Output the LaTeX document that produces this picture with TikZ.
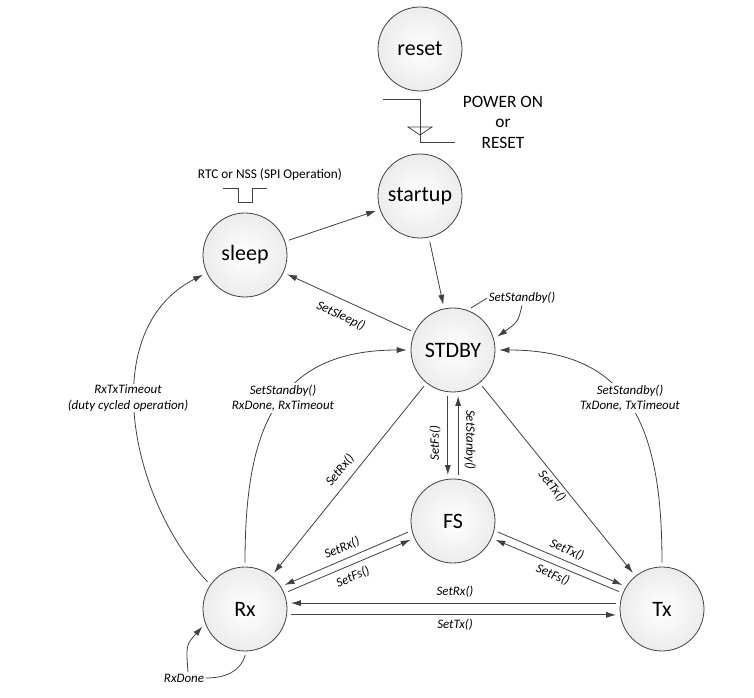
\documentclass[tikz,border=0pt]{standalone}
\usepackage{fontspec}
\setmainfont{Carlito}
\usetikzlibrary{arrows.meta}
\definecolor{linegray}{HTML}{404040}
\tikzset{>={Latex[length=2.6mm,width=1.6mm]}}
\tikzset{
    state/.style={circle, draw=linegray, line width=0.6pt, minimum size=63pt,
        inner color=white, outer color=gray!15,
        font=\fontsize{16.5}{18}\selectfont},
    lab/.style={font=\fontsize{9.7}{11.5}\selectfont\itshape, inner sep=1pt},
    conn/.style={draw=linegray, line width=0.6pt, ->, shorten >=3pt, shorten <=3pt},
}

\begin{document}
\begin{tikzpicture}[x=0.75pt,y=-0.75pt]
	\useasboundingbox (0,0) rectangle (754,698);
	% states
	\node[state] (reset) at (420,49) {reset};
	\node[state] (startup) at (420,196) {startup};
	\node[state] (sleep) at (245,255) {sleep};
	\node[state] (stdby) at (453,350) {STDBY};
	\node[state] (fs) at (453,521) {FS};
	\node[state] (rx) at (245,609) {Rx};
	\node[state] (tx) at (662,609) {Tx};
	% power on step
	\draw[linegray, line width=0.6pt] (383,99) -- (420,99) -- (420,142) -- (455,142);
	\draw[linegray, line width=0.6pt] (408,127) -- (432,127) -- (420,135) -- cycle;
	\node[align=center, font=\fontsize{13}{15.4}\selectfont] (power) at (503,122) {POWER ON\\or\\RESET};
	% wake-up pulse
	\node[font=\fontsize{10}{12}\selectfont] (rtc) at (270,175) {RTC or NSS (SPI Operation)};
	\draw[linegray, line width=0.6pt] (223,188) -- (238,188) -- (238,202) -- (252,202) -- (252,188) -- (267,188);
	% straight transitions
	\draw[conn] (sleep) -- (startup);
	\draw[conn] (startup) -- (stdby);
	\draw[conn] (stdby) -- (sleep);
	\draw[conn] (stdby) -- (rx);
	\draw[conn] (stdby) -- (tx);
	\draw[conn] (stdby.263) -- (fs.97);
	\draw[conn] (fs.83) -- (stdby.277);
	\draw[conn] (fs.193) -- (rx.32);
	\draw[conn] (rx.22) -- (fs.204);
	\draw[conn] (fs.347) -- (tx.148);
	\draw[conn] (tx.158) -- (fs.336);
	\draw[conn] (tx.172) -- (rx.8);
	\draw[conn] (rx.352) -- (tx.188);
	% curved transitions
	\draw[conn] (rx.north) .. controls (245,430) and (275,350) .. (stdby.west);
	\draw[conn] (tx.north) .. controls (662,430) and (632,350) .. (stdby.east);
	\draw[conn] (rx.145) .. controls (130,500) and (95,330) .. (sleep.205);
	% self loops
	\node[lab] (lstdby) at (522,298) {SetStandby()};
	\draw[linegray, line width=0.6pt, shorten <=3pt] (stdby.70) -- (lstdby.west);
	\draw[conn, shorten <=0pt] (lstdby.south) .. controls (518,322) .. (stdby.15);
	\node[lab] (lrxdone) at (184,678) {RxDone};
	\draw[linegray, line width=0.6pt, shorten <=3pt] (rx.272) .. controls (240,672) and (225,678) .. (lrxdone.east);
	\draw[conn, shorten <=0pt] ([xshift=3pt]lrxdone.north) .. controls (186,645) .. (rx.200);
	% labels
	\node[lab, rotate=-25] (lsleep) at (341,316) {SetSleep()};
	\node[lab, fill=white, align=center] (lrxsb) at (283,398) {SetStandby()\\RxDone, RxTimeout};
	\node[lab, fill=white, align=center] (lrxto) at (128,398) {RxTxTimeout\\(duty cycled operation)};
	\node[lab, fill=white, align=center] (ltxsb) at (630,398) {SetStandby()\\TxDone, TxTimeout};
	\node[lab, rotate=51] (lsetrx) at (340,470) {SetRx()};
	\node[lab, rotate=-51] (lsettx) at (552,486) {SetTx()};
	\node[lab, rotate=90] (lsetfs) at (435,443) {SetFs()};
	\node[lab, rotate=-90] (lsetsb) at (470,440) {SetStanby()};
	\node[lab, rotate=23] (lfsrx) at (342,548) {SetRx()};
	\node[lab, rotate=23] (lrxfs) at (353,577) {SetFs()};
	\node[lab, rotate=-23] (lfstx) at (567,550) {SetTx()};
	\node[lab, rotate=-23] (ltxfs) at (553,575) {SetFs()};
	\node[lab] (ltxrx) at (455,592) {SetRx()};
	\node[lab] (lrxtx) at (455,625) {SetTx()};
\end{tikzpicture}
\end{document}
